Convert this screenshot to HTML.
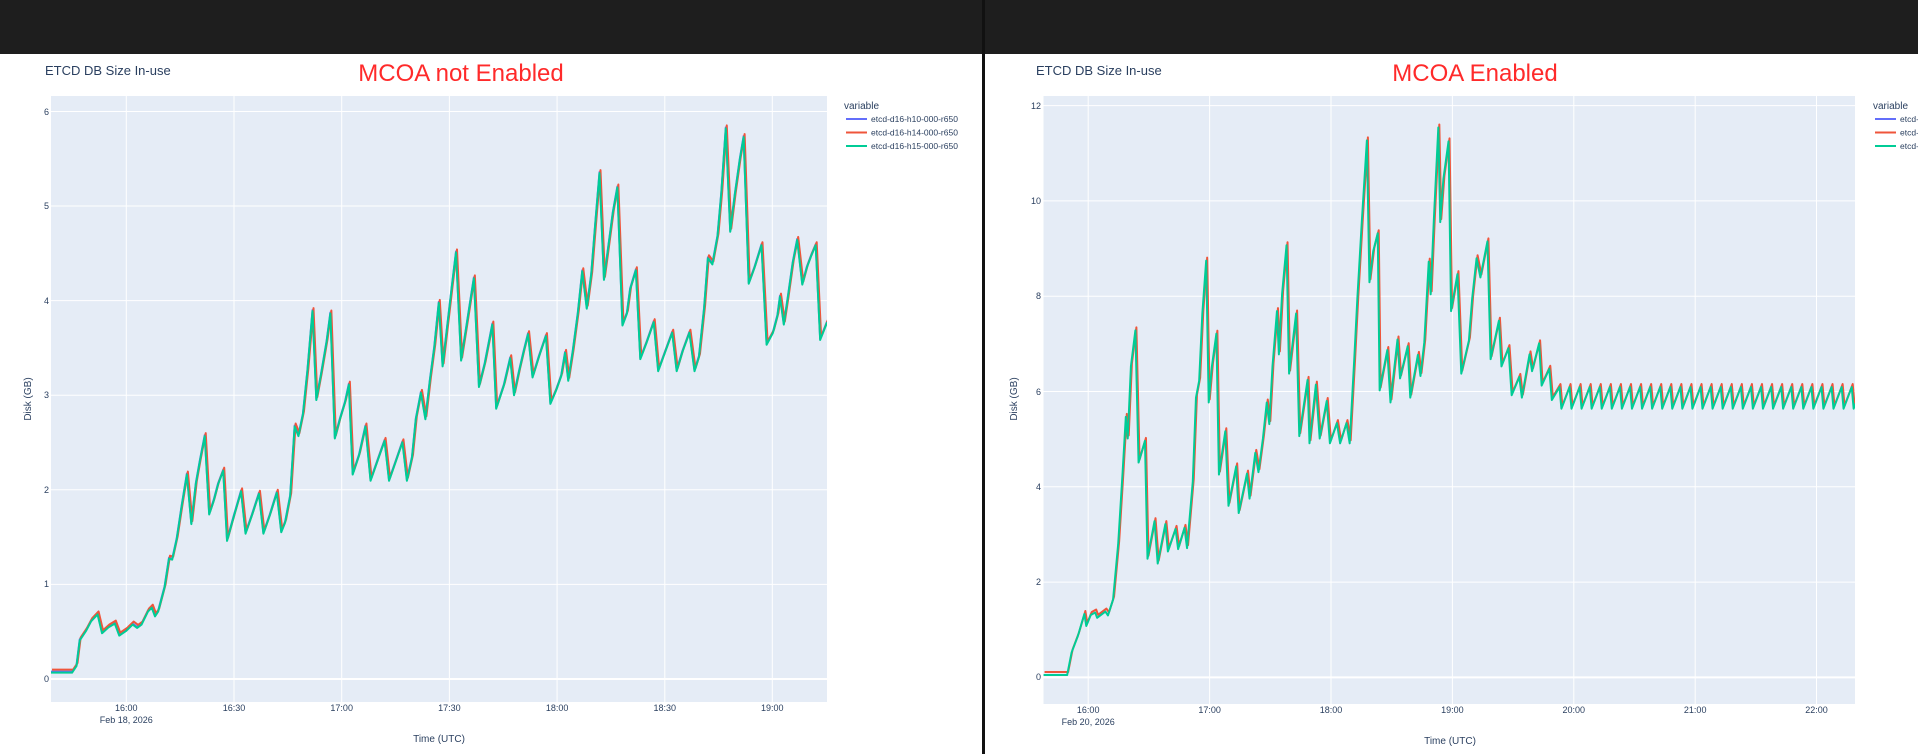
<!DOCTYPE html>
<html><head><meta charset="utf-8"><style>
html,body{margin:0;padding:0;width:1918px;height:754px;overflow:hidden;background:#fff;font-family:"Liberation Sans",sans-serif;}
svg{position:absolute;left:0;top:0}
</style></head><body>
<svg width="1918" height="754" xmlns="http://www.w3.org/2000/svg" font-family="Liberation Sans, sans-serif">
<rect x="0" y="0" width="1918" height="54" fill="#1e1e1e"/>
<!-- LEFT PANEL -->
<text x="45" y="75" font-size="13" fill="#2a3f5f">ETCD DB Size In-use</text>
<text x="461" y="81" font-size="24" fill="#ff2a2a" text-anchor="middle">MCOA not Enabled</text>
<rect x="51" y="96" width="776" height="606" fill="#e5ecf6"/>
<g stroke="#fff" stroke-width="1">
<line x1="126.3" y1="96" x2="126.3" y2="702"/><line x1="234" y1="96" x2="234" y2="702"/><line x1="341.7" y1="96" x2="341.7" y2="702"/><line x1="449.4" y1="96" x2="449.4" y2="702"/><line x1="557.1" y1="96" x2="557.1" y2="702"/><line x1="664.8" y1="96" x2="664.8" y2="702"/><line x1="772.3" y1="96" x2="772.3" y2="702"/>
<line x1="51" y1="584.4" x2="827" y2="584.4"/><line x1="51" y1="489.8" x2="827" y2="489.8"/><line x1="51" y1="395.2" x2="827" y2="395.2"/><line x1="51" y1="300.6" x2="827" y2="300.6"/><line x1="51" y1="206" x2="827" y2="206"/><line x1="51" y1="111.5" x2="827" y2="111.5"/>
<line x1="51" y1="679" x2="827" y2="679" stroke-width="2"/>
</g>
<g font-size="9" fill="#2a3f5f" text-anchor="end">
<text x="49" y="682">0</text><text x="49" y="587">1</text><text x="49" y="493">2</text><text x="49" y="398">3</text><text x="49" y="304">4</text><text x="49" y="209">5</text><text x="49" y="115">6</text>
</g>
<g font-size="9" fill="#2a3f5f" text-anchor="middle">
<text x="126.3" y="711">16:00</text><text x="126.3" y="723">Feb 18, 2026</text><text x="234" y="711">16:30</text><text x="341.7" y="711">17:00</text><text x="449.4" y="711">17:30</text><text x="557.1" y="711">18:00</text><text x="664.8" y="711">18:30</text><text x="772.3" y="711">19:00</text>
</g>
<text x="439" y="742" font-size="10" fill="#2a3f5f" text-anchor="middle">Time (UTC)</text>
<text transform="translate(31,399) rotate(-90)" font-size="10" fill="#2a3f5f" text-anchor="middle">Disk (GB)</text>
<text x="844" y="109" font-size="10" fill="#2a3f5f">variable</text>
<line x1="846" y1="119" x2="867" y2="119" stroke="#636efa" stroke-width="2"/><text x="871" y="122" font-size="8.5" fill="#2a3f5f">etcd-d16-h10-000-r650</text>
<line x1="846" y1="132.5" x2="867" y2="132.5" stroke="#ef553b" stroke-width="2"/><text x="871" y="135.5" font-size="8.5" fill="#2a3f5f">etcd-d16-h14-000-r650</text>
<line x1="846" y1="146" x2="867" y2="146" stroke="#00cc96" stroke-width="2"/><text x="871" y="149" font-size="8.5" fill="#2a3f5f">etcd-d16-h15-000-r650</text>
<defs>
<polyline id="lp" fill="none" stroke-width="2" stroke-linejoin="round" vector-effect="non-scaling-stroke" points="80,1397 113,1397 120,1383 125,1330 135,1310 143,1290 153,1276 160,1315 170,1303 180,1295 187,1320 198,1310 208,1297 215,1304 222,1297 232,1270 238,1262 243,1280 248,1270 253,1245 258,1220 265,1160 270,1162 277,1120 285,1050 293,985 300,1088 307,1005 313,960 321,905 328,1068 335,1040 342,1005 350,977 356,1123 366,1075 378,1020 385,1108 395,1070 406,1025 413,1108 423,1070 434,1023 441,1105 447,1085 455,1030 462,885 468,905 475,860 482,770 490,645 496,830 503,780 512,710 518,650 525,910 533,870 541,835 547,798 553,985 563,945 573,885 581,998 591,960 603,915 610,998 620,960 631,918 638,998 646,950 652,870 660,815 667,870 674,790 681,720 688,628 694,760 701,680 708,600 715,523 723,748 731,680 743,577 751,803 760,755 772,673 778,848 790,800 800,743 806,820 814,770 821,730 828,693 835,783 845,740 856,697 863,838 872,810 880,780 886,732 891,790 898,730 906,650 913,562 920,640 927,570 933,470 940,358 947,580 955,500 961,440 968,388 976,675 983,650 988,600 997,560 1004,745 1014,710 1025,668 1032,770 1043,730 1054,690 1061,770 1070,730 1081,690 1089,770 1096,740 1104,640 1110,535 1117,548 1125,490 1131,400 1138,265 1145,480 1152,405 1160,330 1166,283 1174,588 1183,555 1194,508 1202,715 1212,690 1219,655 1223,615 1229,673 1235,620 1243,545 1250,497 1258,590 1265,555 1272,530 1279,508 1286,705 1297,668"/>
<polyline id="rp" fill="none" stroke-width="2" stroke-linejoin="round" vector-effect="non-scaling-stroke" points=""/>
</defs>
<svg x="51" y="96" width="776" height="606" overflow="hidden">
<g transform="translate(-51,-96)">
<use href="#lp" transform="scale(0.63776,0.48077)" stroke="#636efa"/>
<g transform="translate(1,-2)"><use href="#lp" transform="scale(0.63776,0.48077)" stroke="#ef553b"/></g>
<g transform="translate(0,1)"><use href="#lp" transform="scale(0.63776,0.48077)" stroke="#00cc96"/></g>
</g></svg>
<!-- divider -->
<rect x="982" y="0" width="3" height="754" fill="#111"/>
<!-- RIGHT PANEL -->
<text x="1036" y="75" font-size="13" fill="#2a3f5f">ETCD DB Size In-use</text>
<text x="1475" y="81" font-size="24" fill="#ff2a2a" text-anchor="middle">MCOA Enabled</text>
<rect x="1043.5" y="96" width="811.5" height="608" fill="#e5ecf6"/>
<g stroke="#fff" stroke-width="1">
<line x1="1088.2" y1="96" x2="1088.2" y2="704"/><line x1="1209.6" y1="96" x2="1209.6" y2="704"/><line x1="1331" y1="96" x2="1331" y2="704"/><line x1="1452.4" y1="96" x2="1452.4" y2="704"/><line x1="1573.8" y1="96" x2="1573.8" y2="704"/><line x1="1695.2" y1="96" x2="1695.2" y2="704"/><line x1="1816.5" y1="96" x2="1816.5" y2="704"/>
<line x1="1043.5" y1="582.1" x2="1855" y2="582.1"/><line x1="1043.5" y1="486.8" x2="1855" y2="486.8"/><line x1="1043.5" y1="391.5" x2="1855" y2="391.5"/><line x1="1043.5" y1="296.2" x2="1855" y2="296.2"/><line x1="1043.5" y1="200.9" x2="1855" y2="200.9"/><line x1="1043.5" y1="105.6" x2="1855" y2="105.6"/>
<line x1="1043.5" y1="677.4" x2="1855" y2="677.4" stroke-width="2"/>
</g>
<g font-size="9" fill="#2a3f5f" text-anchor="end">
<text x="1041" y="680">0</text><text x="1041" y="585">2</text><text x="1041" y="490">4</text><text x="1041" y="395">6</text><text x="1041" y="299">8</text><text x="1041" y="204">10</text><text x="1041" y="109">12</text>
</g>
<g font-size="9" fill="#2a3f5f" text-anchor="middle">
<text x="1088.2" y="713">16:00</text><text x="1088.2" y="725">Feb 20, 2026</text><text x="1209.6" y="713">17:00</text><text x="1331" y="713">18:00</text><text x="1452.4" y="713">19:00</text><text x="1573.8" y="713">20:00</text><text x="1695.2" y="713">21:00</text><text x="1816.5" y="713">22:00</text>
</g>
<text x="1450" y="744" font-size="10" fill="#2a3f5f" text-anchor="middle">Time (UTC)</text>
<text transform="translate(1017,399) rotate(-90)" font-size="10" fill="#2a3f5f" text-anchor="middle">Disk (GB)</text>
<text x="1873" y="109" font-size="10" fill="#2a3f5f">variable</text>
<line x1="1875" y1="119" x2="1896" y2="119" stroke="#636efa" stroke-width="2"/><text x="1900" y="122" font-size="8.5" fill="#2a3f5f">etcd-d16-h10-000-r650</text>
<line x1="1875" y1="132.5" x2="1896" y2="132.5" stroke="#ef553b" stroke-width="2"/><text x="1900" y="135.5" font-size="8.5" fill="#2a3f5f">etcd-d16-h14-000-r650</text>
<line x1="1875" y1="146" x2="1896" y2="146" stroke="#00cc96" stroke-width="2"/><text x="1900" y="149" font-size="8.5" fill="#2a3f5f">etcd-d16-h15-000-r650</text>
<svg x="1043.5" y="96" width="811.5" height="608" overflow="hidden">
<g transform="translate(-83.5,-96)">
<g transform="translate(1,-2)"><use href="#rp" transform="scale(0.63776,0.48077)" stroke="#ef553b"/></g>
<g transform="translate(0,1)"><use href="#rp" transform="scale(0.63776,0.48077)" stroke="#00cc96"/></g>
</g></svg>
</svg>
<script>
var pts="131,1402 168,1402 175,1355 185,1320 195,1275 198,1300 205,1277 212,1272 215,1283 228,1270 232,1278 240,1245 248,1130 255,980 260,865 263,910 268,760 275,685 280,960 290,915 294,1160 305,1082 310,1170 322,1088 326,1145 338,1098 342,1140 352,1096 356,1138 365,1000 370,825 375,790 380,650 386,540 390,835 395,760 402,692 406,985 416,895 421,1050 433,968 437,1065 450,983 454,1035 463,940 468,980 475,910 481,835 485,880 490,760 497,645 500,735 505,610 512,508 516,775 527,650 532,905 545,788 548,920 558,798 564,910 575,832 580,920 591,878 596,920 606,878 611,920 618,750 623,620 630,460 638,290 642,585 648,520 655,483 658,810 670,726 675,835 686,704 690,785 702,718 706,825 718,736 722,780 728,710 735,542 738,610 743,455 750,263 753,460 758,370 766,292 770,645 780,568 786,775 798,706 803,620 810,535 816,575 827,500 832,745 845,665 849,760 860,722 865,820 877,782 881,825 893,735 897,770 908,712 912,800 924,765 928,830";
var x=928;
while(x<1403){pts+=" "+(x+12).toFixed(1)+",803 "+(x+15).toFixed(1)+",848";x+=15.8;}
document.getElementById("rp").setAttribute("points",pts);
</script>
</body></html>
